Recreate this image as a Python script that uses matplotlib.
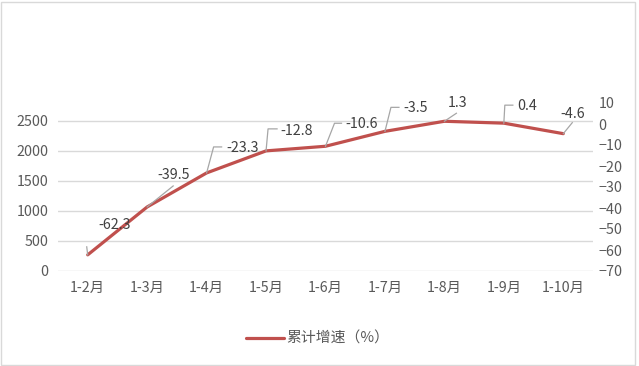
import matplotlib
matplotlib.use('Agg')
import matplotlib.pyplot as plt
from matplotlib.lines import Line2D
from matplotlib.patches import Rectangle

plt.rcParams['font.family'] = ['Noto Sans CJK SC', 'DejaVu Sans']

# 数据
months = ['1-2月', '1-3月', '1-4月', '1-5月', '1-6月', '1-7月', '1-8月', '1-9月', '1-10月']
growth = [-62.3, -39.5, -23.3, -12.8, -10.6, -3.5, 1.3, 0.4, -4.6]
growth_labels = ['-62.3', '-39.5', '-23.3', '-12.8', '-10.6', '-3.5', '1.3', '0.4', '-4.6']
left_ticks = [0, 500, 1000, 1500, 2000, 2500]
right_ticks = [10, 0, -10, -20, -30, -40, -50, -60, -70]

W, H = 639, 366
fig = plt.figure(figsize=(W / 100, H / 100), dpi=100)
ax = fig.add_axes([58 / W, 95 / H, 535 / W, 168 / H])
ax2 = ax.twinx()

txt_color = '#595959'
red = '#c0504d'
fs = 10.3
x = list(range(len(months)))

# 左轴（只有刻度和网格线）
ax.set_xlim(-0.5, len(months) - 0.5)
ax.set_ylim(0, 2800)
ax.set_yticks(left_ticks)
ax.set_xticks(x)
ax.set_xticklabels(months)
ax.grid(axis='y', color='#d9d9d9', linewidth=1)
ax.set_axisbelow(True)
ax.tick_params(axis='y', length=0, pad=7, labelsize=fs, labelcolor=txt_color)
ax.tick_params(axis='x', length=0, pad=7, labelsize=fs, labelcolor=txt_color)

# 右轴 + 折线
ax2.set_ylim(-70, 10)
ax2.set_yticks(right_ticks)
ax2.tick_params(axis='y', length=0, pad=4, labelsize=fs, labelcolor=txt_color)
ax2.plot(x, growth, color=red, linewidth=2.3, label='累计增速（%）', solid_capstyle='round')

for a in (ax, ax2):
    for s in a.spines.values():
        s.set_visible(False)

# 数据标签和引导线（像素偏移）
text_off = [(27, 30), (26, 32), (36, 25), (31, 20), (36, 22), (31, 23), (13, 18), (23, 17), (9, 20)]
leaders = [
    [(0, 0), (-1, 8)],
    [(0, 0), (26, 21)],
    [(0, 0), (7, 26), (15, 26)],
    [(0, 0), (2, 22), (11, 22)],
    [(0, 0), (9, 23), (16, 23)],
    [(0, 0), (6, 24), (14, 24)],
    [(0, 0), (12, 8)],
    [(0, 0), (1, 18), (9, 18)],
    [(0, 0), (9, 11)],
]
for i, v in enumerate(growth):
    px, py = ax2.transData.transform((x[i], v))
    xs = [px + dx for dx, dy in leaders[i]]
    ys = [py + dy for dx, dy in leaders[i]]
    fig.add_artist(Line2D(xs, ys, transform=None, color='#a6a6a6', linewidth=0.9))
    dx, dy = text_off[i]
    fig.text(px + dx, py + dy, growth_labels[i], transform=None,
             ha='center', va='center', fontsize=fs, color='#404040')

fig.legend(loc='center', bbox_to_anchor=(0.497, 0.074), frameon=False,
           fontsize=fs + 0.4, handlelength=2.5, handletextpad=0.15, labelcolor=txt_color)

fig.add_artist(Rectangle((1, 1), 634, 363, transform=None, fill=False,
                         edgecolor='#d9d9d9', linewidth=1))

fig.savefig('out.png', dpi=100)
